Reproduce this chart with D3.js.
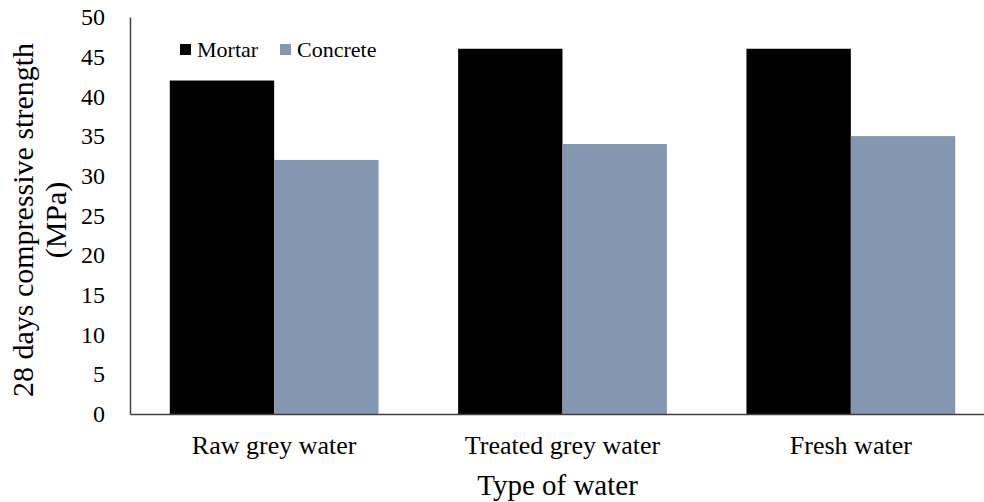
<!DOCTYPE html>
<html>
<head>
<meta charset="utf-8">
<script src="https://cdn.jsdelivr.net/npm/d3@7"></script>
<style>
  body { margin: 0; background: #fff; }
  svg text { fill: #000; }
</style>
</head>
<body>
<div id="chart"></div>
<script>
var categories = ['Raw grey water', 'Treated grey water', 'Fresh water'];
var series = ['Mortar', 'Concrete'];
var mortar = [42, 46, 46];
var concrete = [32, 34, 35];
var yTicks = [0, 5, 10, 15, 20, 25, 30, 35, 40, 45, 50];
var colors = { Mortar: '#000000', Concrete: '#8497b0' };

var width = 984, height = 502;
var mLeft = 130, mTop = 17, mBottom = 414, mRight = 995;
var serif = "'Liberation Serif', Tinos, 'Times New Roman', Times, 'Nimbus Roman', 'DejaVu Serif', serif";

var rows = categories.map(function(c, i) {
  return { cat: c, Mortar: mortar[i], Concrete: concrete[i] };
});

var svg = d3.select('#chart').append('svg')
  .attr('width', width)
  .attr('height', height);

var x0 = d3.scaleBand()
  .domain(categories)
  .range([mLeft, mRight])
  .paddingInner(0.276)
  .paddingOuter(0.138);

var x1 = d3.scaleBand()
  .domain(series)
  .range([0, x0.bandwidth()]);

var y = d3.scaleLinear()
  .domain([0, 50])
  .range([mBottom, mTop]);

// bars
var groups = svg.append('g').selectAll('g')
  .data(rows)
  .enter().append('g')
  .attr('transform', function(d) { return 'translate(' + x0(d.cat) + ',0)'; });

groups.selectAll('rect')
  .data(function(d) { return series.map(function(s) { return { key: s, value: d[s] }; }); })
  .enter().append('rect')
  .attr('x', function(d) { return x1(d.key); })
  .attr('y', function(d) { return y(d.value); })
  .attr('width', x1.bandwidth())
  .attr('height', function(d) { return y(0) - y(d.value); })
  .attr('fill', function(d) { return colors[d.key]; });

// y axis
var yAxis = svg.append('g')
  .attr('transform', 'translate(' + mLeft + ',0)')
  .attr('font-family', serif)
  .call(d3.axisLeft(y).tickValues(yTicks).tickSize(0).tickPadding(25));
yAxis.attr('font-family', serif).attr('font-size', 24);
yAxis.select('.domain').attr('stroke', '#404040').attr('stroke-width', 1.5);
yAxis.selectAll('text').attr('fill', '#000');

// x axis
var xAxis = svg.append('g')
  .attr('transform', 'translate(0,' + mBottom + ')')
  .call(d3.axisBottom(x0).tickSize(0).tickPadding(22));
xAxis.attr('font-family', serif).attr('font-size', 26);
xAxis.select('.domain').attr('stroke', '#404040').attr('stroke-width', 1.5);
xAxis.selectAll('text').attr('fill', '#000');

// axis titles
svg.append('text')
  .attr('x', (mLeft + mRight) / 2 - 5)
  .attr('y', 495)
  .attr('text-anchor', 'middle')
  .attr('font-family', serif)
  .attr('font-size', 29)
  .text('Type of water');

var yTitle = svg.append('text')
  .attr('transform', 'translate(33,220) rotate(-90)')
  .attr('text-anchor', 'middle')
  .attr('font-family', serif)
  .attr('font-size', 30);
yTitle.append('tspan').attr('x', 0).attr('y', 0).text('28 days compressive strength');
yTitle.append('tspan').attr('x', 0).attr('y', 33).text('(MPa)');

// legend
var legend = svg.append('g').selectAll('g')
  .data(series)
  .enter().append('g')
  .attr('transform', function(d, i) { return 'translate(' + (i === 0 ? 180 : 280) + ',0)'; });

legend.append('rect')
  .attr('x', 0).attr('y', 44)
  .attr('width', 11).attr('height', 11)
  .attr('fill', function(d) { return colors[d]; });

legend.append('text')
  .attr('x', 17).attr('y', 57)
  .attr('font-family', serif)
  .attr('font-size', 22)
  .text(function(d) { return d; });
</script>
</body>
</html>
